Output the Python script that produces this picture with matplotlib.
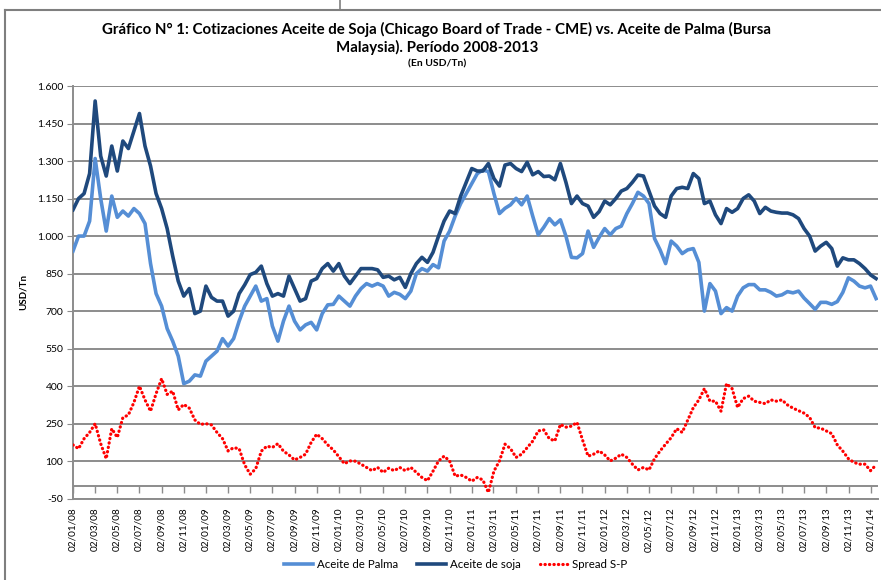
import numpy as np
import pandas as pd
import matplotlib
matplotlib.use('Agg')
import matplotlib.pyplot as plt
import matplotlib.dates as mdates
from matplotlib.ticker import FuncFormatter
from matplotlib.lines import Line2D

plt.rcParams['font.family'] = ['Lato', 'DejaVu Sans']

# valores quincenales (USD/Tn), desde 02/01/2008
palma = [940, 1000, 1000, 1060, 1310, 1150, 1020, 1160, 1075, 1100, 1080, 1110, 1090, 1050, 890, 770,
         720, 630, 580, 520, 410, 420, 445, 440, 500, 520, 540, 590, 560, 590, 660, 720, 760, 800, 740,
         750, 640,
         580, 660, 720, 660, 625, 645, 655, 625, 690, 725, 727, 760, 740, 720, 760, 790, 810, 800, 810,
         800, 760, 775, 767, 750, 780, 850, 870, 860, 886, 873, 980, 1020, 1080, 1130, 1170, 1210,
         1250, 1264, 1258, 1170, 1090, 1111, 1125, 1151, 1125, 1160, 1080, 1005, 1035, 1070, 1045, 1065,
         1000, 915, 913, 930, 1020, 955, 995, 1030, 1005, 1030, 1040, 1090, 1130, 1175, 1160, 1130, 990,
         945, 890, 980,
         960, 930, 945, 950, 895, 700, 810, 780, 690, 714, 700, 760, 793, 806, 806, 785, 785, 775, 760,
         765, 778, 773, 780, 752, 730, 707, 735, 735, 727, 738, 775, 833, 820, 800, 793, 800, 750]

soja = [1105, 1150, 1170, 1250, 1540, 1320, 1240, 1360, 1260, 1380, 1350, 1420, 1490, 1360, 1280, 1170,
        1110, 1030, 920, 820, 760, 790, 690, 700, 800, 755, 740, 740, 680, 700, 770, 805, 846, 855, 880,
        810, 760,
        770, 760, 840, 790, 740, 750, 820, 830, 870, 890, 860, 890, 840, 810, 840, 870, 870, 870, 865,
        835, 840, 825, 835, 795, 850, 890, 915, 895, 935, 1000, 1060, 1100, 1090, 1160, 1215, 1270,
        1260, 1260, 1290, 1230, 1200, 1284, 1290, 1270, 1258, 1295, 1245, 1258, 1238, 1240, 1225, 1290,
        1215, 1130, 1160, 1130, 1120, 1075, 1098, 1140, 1125, 1150, 1180, 1190, 1215, 1244, 1240, 1180,
        1120, 1090, 1075, 1160,
        1190, 1195, 1190, 1250, 1230, 1130, 1140, 1085, 1050, 1110, 1095, 1110, 1150, 1165, 1140, 1090,
        1115, 1100, 1095, 1092, 1092, 1085, 1070, 1030, 1000, 940, 960, 975, 950, 880, 913, 905, 905,
        890, 870, 845, 830]

spread = [165, 150, 190, 215, 250, 170, 110, 230, 195, 274, 285, 335, 400, 345, 300, 370, 430, 367,
          380, 305, 327, 312, 265, 247, 250, 245, 215, 190, 141, 154, 150, 85, 48, 70, 140, 160, 155,
          170, 140, 125, 105, 115, 128, 175, 208, 190, 165, 145, 118, 90, 101, 100, 88, 75, 62, 75, 55,
          72, 62, 75, 62, 75, 55, 35, 22, 60, 101, 120, 101, 40, 45, 35, 20,
          35, 25, -25, 60, 101, 168, 150, 115, 128, 154, 180, 221, 225, 190, 181, 247, 236, 240, 255,
          185, 120, 128, 141, 125, 101, 112, 128, 115, 88, 65, 75, 65, 110, 141, 168, 194,
          230, 215, 265, 314, 345, 390, 340, 340, 300, 410, 390, 315, 350, 360, 340, 335, 330, 345, 340,
          345, 325, 312, 302, 292, 275, 234, 232, 221, 210, 165, 140, 110, 95, 88, 88, 62, 85]

inicio = pd.Timestamp('2008-01-02')
fechas = inicio + pd.to_timedelta(np.arange(len(palma)) * 365.25 / 24, unit='D')
ticks_x = pd.date_range('2008-01-01', '2014-01-01', freq='2MS') + pd.Timedelta(days=1)
ticks_y = np.arange(-50, 1601, 150)

gris = '#8c8c8c'

fig = plt.figure(figsize=(8.81, 5.8), dpi=100)
ax = fig.add_axes([73 / 881, 1 - 498.7 / 580, 805 / 881, 412.7 / 580])

ax.set_ylim(-50, 1600)
ax.set_xlim(inicio, pd.Timestamp('2014-01-22'))
ax.set_yticks(ticks_y)
ax.yaxis.set_major_formatter(FuncFormatter(lambda v, p: f"{v:,.0f}".replace(',', '.')))
ax.grid(axis='y', color=gris, lw=1.4, zorder=1)
ax.axhline(0, color=gris, lw=1.4, zorder=1)
ax.vlines(ticks_x, -28, 0, color=gris, lw=1, zorder=1)

ax.plot(fechas, palma, color='#558ed5', lw=2.6, label='Aceite de Palma', zorder=3)
ax.plot(fechas, soja, color='#1f497d', lw=2.6, label='Aceite de soja', zorder=4)
ax.plot(fechas, spread, color='#ff0000', lw=2.3, ls=(0, (0.1, 1.3)), dash_capstyle='round',
        label='Spread S-P', zorder=5)

ax.set_xticks(ticks_x)
ax.xaxis.set_major_formatter(mdates.DateFormatter('%d/%m/%y'))
ax.tick_params(axis='x', length=0, pad=6.5, labelsize=7.2, rotation=90)
ax.tick_params(axis='y', length=4, color=gris, labelsize=7.5, pad=3)

for s in ['top', 'right']:
    ax.spines[s].set_visible(False)
ax.spines['left'].set_color(gris)
ax.spines['bottom'].set_color(gris)
ax.spines['left'].set_linewidth(1.4)
ax.spines['bottom'].set_linewidth(1.4)

ax.set_ylabel('USD/Tn', fontsize=7, fontweight='bold')
ax.yaxis.set_label_coords(-0.056, 0.5)

fig.text(437 / 881, 1 - 29 / 580,
         'Gráfico N° 1: Cotizaciones Aceite de Soja (Chicago Board of Trade - CME) vs. Aceite de Palma (Bursa',
         ha='center', va='center', fontsize=10.8, fontweight='bold')
fig.text(437 / 881, 1 - 47 / 580, 'Malaysia). Período 2008-2013',
         ha='center', va='center', fontsize=10.8, fontweight='bold')
fig.text(437 / 881, 1 - 63.5 / 580, '(En USD/Tn)', ha='center', va='center', fontsize=7.5, fontweight='bold')

fig.legend(loc='center', bbox_to_anchor=(456 / 881, 1 - 565 / 580), ncol=3, frameon=False,
           fontsize=8.3, handlelength=2.5, columnspacing=1.7, handletextpad=0.3)

# marco del area del grafico
borde = '#7f7f7f'
fig.add_artist(Line2D([5 / 881, 5 / 881], [0, 1 - 10 / 580], transform=fig.transFigure, color=borde, lw=1.5))
fig.add_artist(Line2D([5 / 881, 1], [1 - 10 / 580, 1 - 10 / 580], transform=fig.transFigure, color=borde, lw=1.5))
fig.add_artist(Line2D([340 / 881, 340 / 881], [1 - 10 / 580, 1], transform=fig.transFigure, color=borde, lw=1.2))

fig.savefig('out.png', dpi=100)
